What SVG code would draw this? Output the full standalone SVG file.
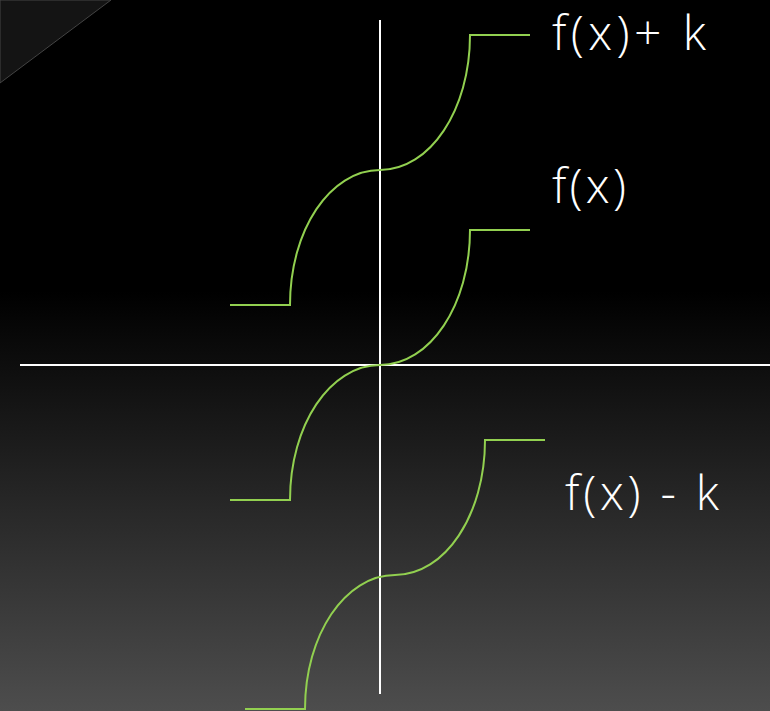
<svg xmlns="http://www.w3.org/2000/svg" width="770" height="711" viewBox="0 0 770 711">
<defs>
<linearGradient id="bg" x1="0" y1="0" x2="0" y2="711" gradientUnits="userSpaceOnUse">
<stop offset="0" stop-color="#000"/>
<stop offset="0.41" stop-color="#000"/>
<stop offset="1" stop-color="#4d4d4d"/>
</linearGradient>
<style>
.axis{stroke:#fff;stroke-width:2;fill:none}
.curve{stroke:#92d050;stroke-width:2;fill:none}
.lbl{fill:#fff;font-family:"Open Sans","Noto Sans",sans-serif;font-weight:300;font-size:48px}
</style>
</defs>
<rect width="770" height="711" fill="url(#bg)"/>
<polygon points="0,0 111,0 0,83" fill="#141414" stroke="#444" stroke-width="1"/>
<g id="axes" class="connectors">
<line class="axis" x1="380" y1="20" x2="380" y2="694"/>
<line class="axis" x1="20" y1="365" x2="770" y2="365"/>
</g>
<g id="curve-fx-plus-k">
<path class="curve" d="M230,305 H290 C290,230 330,170 380,170 C430,170 470,110 470,35 H530"/>
</g>
<g id="curve-fx">
<path class="curve" d="M230,500 H290 C290,425 330,365 380,365 C430,365 470,305 470,230 H530"/>
</g>
<g id="curve-fx-minus-k">
<path class="curve" d="M245,709 H305 C305,635 345,575 395,575 C445,575 485,515 485,440 H545"/>
</g>
<g id="label-fx-plus-k">
<text class="lbl" x="552" y="50" textLength="154" lengthAdjust="spacing">f(x)+ k</text>
</g>
<g id="label-fx">
<text class="lbl" x="552" y="203" textLength="74" lengthAdjust="spacing">f(x)</text>
</g>
<g id="label-fx-minus-k">
<text class="lbl" x="565" y="510" textLength="154" lengthAdjust="spacing">f(x) - k</text>
</g>
</svg>
